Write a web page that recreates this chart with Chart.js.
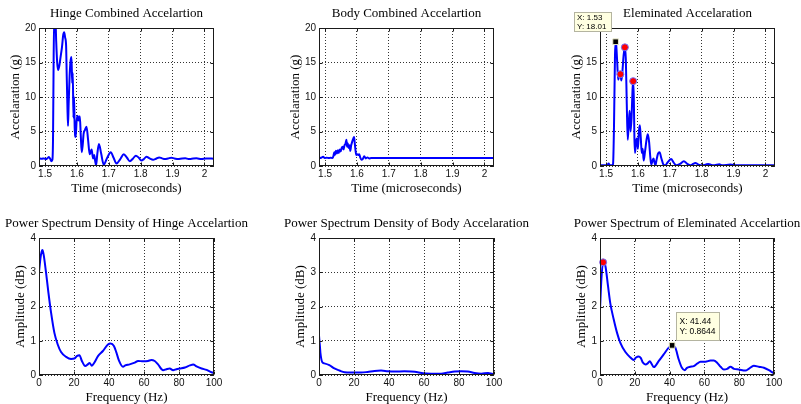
<!DOCTYPE html>
<html><head><meta charset="utf-8">
<script src="https://cdn.jsdelivr.net/npm/chart.js@4.4.0/dist/chart.umd.min.js"></script>
<style>
html,body{margin:0;padding:0;background:#fff;width:801px;height:404px;overflow:hidden;position:relative;}
canvas{position:absolute;}
</style></head><body>
<script>
// ---------- tick values ----------
const timeTicks = [1.5, 1.6, 1.7, 1.8, 1.9, 2];
const accelTicks = [0, 5, 10, 15, 20];
const freqTicks = [0, 20, 40, 60, 80, 100];
const ampTicks = [0, 1, 2, 3, 4];

// ---------- Hinge combined acceleration ----------
const hingeTime = [1.481,1.490,1.497,1.503,1.508,1.512,1.516,1.520,1.523,1.525,1.527,1.529,1.532,1.535,1.538,1.541,1.545,1.549,1.553,1.557,1.560,1.563,1.566,1.568,1.570,1.572,1.574,1.577,1.580,1.583,1.585,1.587,1.589,1.591,1.593,1.596,1.599,1.602,1.605,1.609,1.612,1.615,1.618,1.621,1.625,1.630,1.635,1.640,1.643,1.646,1.649,1.651,1.654,1.657,1.660,1.664,1.669,1.676,1.684,1.695,1.706,1.715,1.724,1.736,1.747,1.757,1.766,1.776,1.785,1.794,1.802,1.810,1.818,1.828,1.839,1.848,1.858,1.867,1.876,1.886,1.896,1.906,1.917,1.930,1.940,1.950,1.960,1.975,1.990,2.005,2.030];
const hingeAccel = [1.1,1.05,1.1,1.0,1.15,1.3,1.05,0.7,0.9,4,16,22,22,18,15,13.9,14.6,15.9,17.2,19.0,19.4,18.6,17.5,13,9,5.8,9,13,15.2,15.8,12,13.5,7,10,5.5,4.2,6.5,7.3,6.6,7.2,4.5,2.0,3,4.7,5.2,5.7,3.8,1.7,2.0,2.4,1.5,1.1,1.6,0.8,0.1,1.8,3.2,1.8,0.2,1.2,2.0,1.2,0.35,1.0,1.7,1.2,0.7,1.1,1.5,1.2,0.8,1.0,1.35,1.1,0.9,1.05,1.25,1.1,1.0,1.1,1.2,1.1,1.0,1.1,1.12,1.0,1.05,1.12,1.0,1.1,1.05];

// ---------- Body combined acceleration ----------
const bodyTime = [1.481,1.488,1.494,1.499,1.505,1.512,1.518,1.523,1.526,1.529,1.531,1.534,1.537,1.540,1.543,1.546,1.549,1.552,1.555,1.558,1.561,1.564,1.567,1.569,1.571,1.574,1.577,1.579,1.582,1.585,1.588,1.591,1.593,1.595,1.598,1.601,1.604,1.607,1.610,1.614,1.618,1.623,1.628,1.633,1.638,1.645,2.030];
const bodyAccel = [1.15,1.2,1.35,1.15,1.2,1.15,1.2,1.15,1.4,2.0,1.6,2.2,1.8,2.3,1.9,2.4,2.1,2.6,2.8,2.4,3.0,3.2,3.8,2.8,3.3,2.6,3.0,2.2,3.0,3.5,3.9,4.2,3.4,2.5,1.6,1.7,1.6,1.7,1.3,0.9,1.0,1.4,1.1,1.25,1.1,1.15,1.15];

// ---------- Eliminated acceleration ----------
const elimTime = [1.481,1.500,1.505,1.508,1.512,1.520,1.522,1.525,1.528,1.530,1.532,1.535,1.538,1.541,1.545,1.548,1.551,1.555,1.559,1.562,1.565,1.568,1.571,1.574,1.577,1.580,1.583,1.585,1.587,1.589,1.591,1.594,1.597,1.600,1.603,1.606,1.609,1.612,1.615,1.618,1.622,1.627,1.631,1.635,1.639,1.642,1.646,1.649,1.652,1.655,1.658,1.663,1.668,1.673,1.680,1.685,1.693,1.704,1.712,1.720,1.732,1.744,1.755,1.765,1.773,1.780,1.790,1.800,1.812,1.821,1.830,1.840,1.855,1.865,1.890,1.910,2.030];
const elimAccel = [0.1,0.1,0.2,0.35,0.1,0.1,0.3,6,16,18.01,17.5,15,12.5,13.0,13.3,12.4,13.5,16,17.2,15.5,9,3.8,6,8,5,7,11,12.3,10,4,1.9,3.5,4,2.5,5,5.9,4,1.9,2.5,0.8,2.0,3.8,4.6,3.5,1.2,0.2,0.8,1.1,0.5,0.1,0.8,1.8,2.0,1.2,0.2,0.1,0.5,1.0,0.5,0.1,0.3,0.7,0.3,0.1,0.3,0.45,0.2,0.1,0.2,0.3,0.15,0.1,0.25,0.1,0.2,0.1,0.1];
const elimPeakTime = [1.545, 1.559, 1.585];
const elimPeakAccel = [13.3, 17.2, 12.3];
const elimTipTime = [1.53];
const elimTipAccel = [18.01];

// ---------- PSD hinge ----------
const hingeFreq = [0,0.8,1.5,2.0,2.7,4.0,5.4,6.9,8.8,10.7,12.6,15.5,18.3,20.2,21.8,23.1,24.5,26.4,27.9,28.9,30.2,31.5,33.7,36.5,39.4,40.9,42.8,44.2,45.7,48.0,49.3,51.8,54.7,56.6,59.5,62.3,64.2,66.1,68.0,70.9,72.8,74.7,76.6,78.5,80.5,83.4,86.2,88.1,90.0,92.9,95.8,98.6,100];
const hingePsd = [3.0,3.4,3.6,3.65,3.5,3.0,2.4,1.82,1.23,0.89,0.67,0.53,0.47,0.48,0.56,0.58,0.41,0.26,0.31,0.35,0.27,0.35,0.55,0.70,0.89,0.92,0.85,0.66,0.42,0.24,0.28,0.31,0.36,0.41,0.40,0.41,0.44,0.41,0.31,0.14,0.17,0.19,0.14,0.17,0.19,0.22,0.28,0.31,0.25,0.19,0.15,0.08,0.06];

// ---------- PSD body ----------
const bodyFreq = [0,0.5,0.8,1.9,3.0,5.9,8.8,11.7,14.6,18.3,24.0,27.8,31.7,35.5,39.3,43.1,48.8,52.6,56.4,59.4,64.1,69.8,73.6,77.5,81.3,85.1,88.9,92.8,96.6,99.4,100];
const bodyPsd = [1.15,0.85,0.65,0.37,0.34,0.29,0.19,0.13,0.08,0.07,0.07,0.09,0.12,0.13,0.11,0.10,0.11,0.10,0.08,0.05,0.04,0.04,0.07,0.10,0.11,0.10,0.06,0.04,0.06,0.03,0.03];

// ---------- PSD eliminated ----------
const elimFreq = [0,0.8,1.8,3.1,4.6,5.9,7.9,9.8,11.7,14.6,17.5,19.4,20.7,22.2,23.4,24.7,26.1,27.4,28.6,29.6,30.9,33.8,36.6,39.5,41.44,43.3,45.2,47.1,48.7,50.0,51.9,53.9,55.8,57.7,60.6,63.5,65.4,67.3,69.3,71.2,73.1,75.0,77.0,79.8,83.6,85.5,88.4,91.3,94.2,97.1,99.6,100];
const elimPsd = [1.9,2.8,3.29,3.18,2.6,2.1,1.62,1.23,0.94,0.67,0.51,0.44,0.51,0.54,0.5,0.36,0.31,0.34,0.4,0.33,0.23,0.41,0.6,0.8,0.8644,0.8,0.46,0.21,0.14,0.21,0.24,0.26,0.33,0.39,0.39,0.42,0.42,0.36,0.24,0.16,0.18,0.24,0.18,0.16,0.13,0.18,0.27,0.24,0.21,0.14,0.06,0.05];
const psdPeakFreq = [1.8];
const psdPeakAmp = [3.29];
const psdTipFreq = [41.44];
const psdTipAmp = [0.8644];

// ---------- drawing ----------
const SERIF = '"Liberation Serif", "Times New Roman", serif';
const SANS = '"Liberation Sans", Arial, sans-serif';
const YW = 39, XH = 33, TH = 22;
const BLUE = '#0000ff';

function pts(xs, ys) { return xs.map((x, i) => ({x: x, y: ys[i]})); }

const framePlugin = {
  id: 'frame',
  afterDatasetsDraw(chart) {
    const {ctx, chartArea: a, scales: {x, y}} = chart;
    ctx.save();
    ctx.strokeStyle = '#1a1a1a';
    ctx.lineWidth = 1;
    const l = Math.round(a.left) + 0.5, r = Math.round(a.right) - 0.5;
    const t = Math.round(a.top) + 0.5, b = Math.round(a.bottom) - 0.5;
    ctx.strokeRect(l, t, r - l, b - t);
    ctx.beginPath();
    const tl = 3;
    x.ticks.forEach(tk => {
      const px = Math.round(x.getPixelForValue(tk.value)) + 0.5;
      ctx.moveTo(px, b); ctx.lineTo(px, b - tl);
      ctx.moveTo(px, t); ctx.lineTo(px, t + tl);
    });
    y.ticks.forEach(tk => {
      const py = Math.round(y.getPixelForValue(tk.value)) + 0.5;
      ctx.moveTo(l, py); ctx.lineTo(l + tl, py);
      ctx.moveTo(r, py); ctx.lineTo(r - tl, py);
    });
    ctx.stroke();
    ctx.restore();
  },
  afterDraw(chart, args, opts) {
    const tip = opts && opts.tip;
    if (!tip) return;
    const {ctx, scales: {x, y}} = chart;
    const px = x.getPixelForValue(tip.x), py = y.getPixelForValue(tip.y);
    const bx = Math.round(px + tip.dx), by = Math.round(py + tip.dy);
    ctx.save();
    ctx.fillStyle = '#ffffe1';
    ctx.fillRect(bx, by, tip.w, tip.h);
    ctx.strokeStyle = '#b4b4a0';
    ctx.lineWidth = 1;
    ctx.strokeRect(bx + 0.5, by + 0.5, tip.w - 1, tip.h - 1);
    ctx.fillStyle = '#000';
    ctx.font = tip.size + 'px ' + SANS;
    ctx.textBaseline = 'middle';
    ctx.textAlign = 'left';
    tip.lines.forEach((s, i) => ctx.fillText(s, bx + tip.padX, by + tip.padY + i * tip.lh));
    ctx.restore();
  }
};

function axisCommon(min, max, ticksArr, fmt, isX, titleText, titlePad) {
  const o = {
    type: 'linear', min: min, max: max,
    afterBuildTicks: s => { s.ticks = ticksArr.map(v => ({value: v})); },
    grid: {color: 'rgba(0,0,0,0.8)', lineWidth: 1, drawTicks: false},
    border: {display: false, dash: [1, 2]},
    ticks: {color: '#111', font: {family: SANS, size: 10}, padding: isX ? 2 : 3, callback: fmt, maxRotation: 0, autoSkip: false},
    title: {display: true, text: titleText, color: '#000', font: {family: SERIF, size: 13}, padding: titlePad}
  };
  if (isX) o.afterFit = s => { s.height = XH; s.paddingLeft = 0; s.paddingRight = 0; };
  else o.afterFit = s => { s.width = YW; s.paddingTop = 0; s.paddingBottom = 0; };
  return o;
}

// invisible right-hand spacer axis, so the title is centred over the plot box
const spacerAxis = () => ({
  type: 'linear', position: 'right', display: true, min: 0, max: 1,
  grid: {display: false}, border: {display: false}, ticks: {display: false},
  afterFit: s => { s.width = YW; s.paddingTop = 0; s.paddingBottom = 0; }
});

function build(pos, spec) {
  const [L, T, W, H] = pos;
  const cw = YW + W + YW, ch = TH + H + XH;
  const canvas = document.createElement('canvas');
  canvas.width = cw; canvas.height = ch;
  canvas.style.left = (L - YW) + 'px';
  canvas.style.top = (T - TH) + 'px';
  canvas.style.width = cw + 'px';
  canvas.style.height = ch + 'px';
  document.body.appendChild(canvas);
  new Chart(canvas, {
    type: 'line',
    data: {datasets: spec.datasets},
    options: {
      responsive: false, animation: false, devicePixelRatio: 1,
      layout: {autoPadding: false, padding: 0},
      plugins: {
        legend: {display: false}, tooltip: {enabled: false},
        title: {display: true, text: spec.title, fullSize: true, color: '#000',
                font: {family: SERIF, size: 13, weight: 'normal'}, padding: {top: 0, bottom: 6.4}},
        frame: {tip: spec.tip || null}
      },
      scales: {x: spec.x, y: spec.y, spacer: spacerAxis()}
    },
    plugins: [framePlugin]
  });
}

const fmtNum = v => String(Math.round(v * 10) / 10);
const lineDs = (xs, ys, w) => ({data: pts(xs, ys), borderColor: BLUE, borderWidth: w, pointRadius: 0,
  cubicInterpolationMode: 'monotone', fill: false, order: 2, clip: 0});
const redDots = (xs, ys) => ({data: pts(xs, ys), showLine: false, pointRadius: 3.5, pointBackgroundColor: '#ff0000',
  pointBorderColor: '#7070ff', pointBorderWidth: 1, order: 0, clip: false});
const tipSquare = (xs, ys) => ({data: pts(xs, ys), showLine: false, pointStyle: 'rect', pointRadius: 4,
  pointBackgroundColor: '#000', pointBorderColor: '#e8e8c8', pointBorderWidth: 1, order: 0, clip: false});

const topY = () => axisCommon(0, 20, accelTicks, fmtNum, false, 'Accelaration (g)', {top: 8.2, bottom: 0});
const topX = () => axisCommon(1.481, 2.03, timeTicks, fmtNum, true, 'Time (microseconds)', {top: 0, bottom: 2.2});
const botY = () => axisCommon(0, 4, ampTicks, fmtNum, false, 'Amplitude (dB)', {top: 13.2, bottom: 0});
const botX = () => axisCommon(0, 100, freqTicks, fmtNum, true, 'Frequency (Hz)', {top: 0, bottom: 2.2});

build([39, 28, 175, 138], {title: 'Hinge Combined Accelartion',
  datasets: [lineDs(hingeTime, hingeAccel, 2)], x: topX(), y: topY()});
build([319, 28, 175, 138], {title: 'Body Combined Accelartion',
  datasets: [lineDs(bodyTime, bodyAccel, 2)], x: topX(), y: topY()});
build([600, 28, 175, 138], {title: 'Eleminated Accelaration',
  datasets: [redDots(elimPeakTime, elimPeakAccel), tipSquare(elimTipTime, elimTipAccel), lineDs(elimTime, elimAccel, 2)],
  x: topX(), y: topY(),
  tip: {x: elimTipTime[0], y: elimTipAccel[0], dx: -42, dy: -30, w: 38, h: 20, size: 8, padX: 3, padY: 5.5, lh: 9.3,
        lines: ['X: ' + elimTipTime[0], 'Y: ' + elimTipAccel[0]]}});
build([39, 238, 175, 137], {title: 'Power Spectrum Density of Hinge Accelartion',
  datasets: [lineDs(hingeFreq, hingePsd, 2)], x: botX(), y: botY()});
build([319, 238, 175, 137], {title: 'Power Spectrum Density of Body Accelaration',
  datasets: [lineDs(bodyFreq, bodyPsd, 2)], x: botX(), y: botY()});
build([600, 238, 174, 137], {title: 'Power Spectrum of Eleminated Accelartion',
  datasets: [redDots(psdPeakFreq, psdPeakAmp), tipSquare(psdTipFreq, psdTipAmp), lineDs(elimFreq, elimPsd, 2)],
  x: botX(), y: botY(),
  tip: {x: psdTipFreq[0], y: psdTipAmp[0], dx: 4, dy: -33, w: 44, h: 29, size: 8.5, padX: 3.5, padY: 9.5, lh: 10.5,
        lines: ['X: ' + psdTipFreq[0], 'Y: ' + psdTipAmp[0]]}});
</script>
</body></html>
